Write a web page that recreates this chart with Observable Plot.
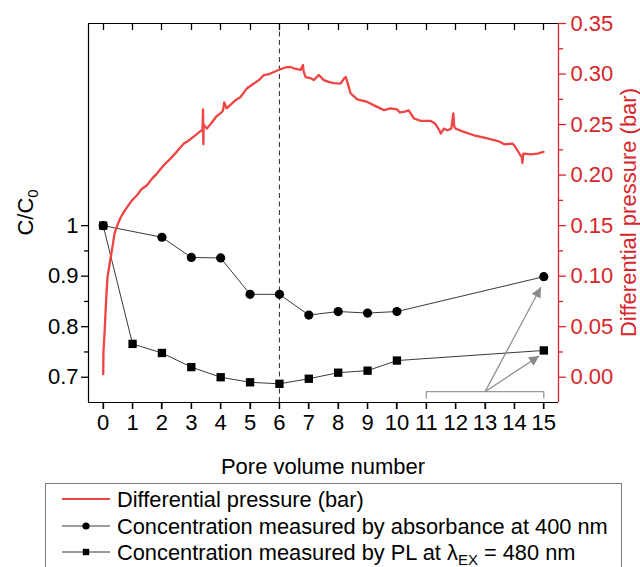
<!DOCTYPE html>
<html>
<head>
<meta charset="utf-8">
<script src="https://cdn.jsdelivr.net/npm/d3@7"></script>
<script src="https://cdn.jsdelivr.net/npm/@observablehq/plot@0.6"></script>
<style>
  html, body { margin: 0; padding: 0; background: #fff; }
  #wrap { position: relative; width: 640px; height: 567px; overflow: hidden; font-family: "Liberation Sans", Arial, sans-serif; }
  #legend { position: absolute; left: 45px; top: 483px; width: 577px; height: 120px; border: 1px solid #7c7c7c; box-sizing: border-box; background: #fff; }
</style>
</head>
<body>
<div id="wrap"><div id="chart"></div><div id="legend"></div></div>
<script>
// ---------- data ----------
const xTicks = [0, 1, 2, 3, 4, 5, 6, 7, 8, 9, 10, 11, 12, 13, 14, 15];
const leftTicks = [0.7, 0.8, 0.9, 1];
const leftMinor = [0.75, 0.85, 0.95];
const rightTicks = [0, 0.05, 0.10, 0.15, 0.20, 0.25, 0.30, 0.35];
const rightMinor = [0.025, 0.075, 0.125, 0.175, 0.225, 0.275, 0.325];

// Concentration measured by absorbance at 400 nm (circles)
const absX = [0, 2, 3, 4, 5, 6, 7, 8, 9, 10, 15];
const absY = [1.0, 0.977, 0.937, 0.936, 0.864, 0.864, 0.823, 0.830, 0.827, 0.830, 0.899];

// Concentration measured by PL (squares)
const plX = [0, 1, 2, 3, 4, 5, 6, 7, 8, 9, 10, 15];
const plY = [1.0, 0.766, 0.748, 0.720, 0.700, 0.690, 0.687, 0.697, 0.709, 0.713, 0.733, 0.753];

// Differential pressure (bar)
const dpX = [0, 0.01, 0.045, 0.10, 0.147, 0.24, 0.30, 0.386, 0.49, 0.58, 0.67, 0.81, 0.98, 1.15, 1.3, 1.49, 1.65, 1.83, 2.06, 2.28, 2.5, 2.74, 2.9, 3.08, 3.25, 3.38, 3.40, 3.41, 3.42, 3.53, 3.7, 3.85, 3.99, 4.08, 4.12, 4.2, 4.35, 4.5, 4.67, 4.9, 5.13, 5.3, 5.47, 5.65, 5.81, 6.01, 6.2, 6.38, 6.55, 6.72, 6.8, 6.82, 6.89, 7.05, 7.17, 7.34, 7.51, 7.7, 7.85, 8.08, 8.2, 8.26, 8.35, 8.42, 8.65, 8.99, 9.22, 9.4, 9.56, 9.78, 10.0, 10.1, 10.24, 10.4, 10.58, 10.81, 11.15, 11.3, 11.37, 11.45, 11.49, 11.6, 11.72, 11.85, 11.92, 11.95, 12.0, 12.28, 12.62, 12.97, 13.31, 13.5, 13.65, 13.93, 14.0, 14.1, 14.2, 14.25, 14.27, 14.3, 14.33, 14.56, 14.78, 14.99];
const dpP = [0.003, 0.026, 0.043, 0.076, 0.099, 0.116, 0.126, 0.142, 0.151, 0.157, 0.162, 0.168, 0.175, 0.180, 0.186, 0.190, 0.196, 0.2015, 0.2097, 0.216, 0.223, 0.231, 0.234, 0.238, 0.242, 0.245, 0.265, 0.2305, 0.250, 0.246, 0.252, 0.258, 0.261, 0.264, 0.272, 0.266, 0.270, 0.274, 0.277, 0.286, 0.2906, 0.294, 0.299, 0.300, 0.302, 0.3045, 0.3065, 0.307, 0.305, 0.304, 0.309, 0.303, 0.297, 0.296, 0.294, 0.299, 0.294, 0.292, 0.291, 0.2906, 0.2956, 0.297, 0.288, 0.281, 0.275, 0.2724, 0.269, 0.2665, 0.2642, 0.266, 0.265, 0.262, 0.2625, 0.264, 0.256, 0.2536, 0.2536, 0.251, 0.2477, 0.244, 0.2411, 0.246, 0.2444, 0.246, 0.261, 0.248, 0.246, 0.2427, 0.2394, 0.237, 0.2345, 0.233, 0.2305, 0.2312, 0.229, 0.2246, 0.2196, 0.218, 0.212, 0.221, 0.2213, 0.2206, 0.2213, 0.2229];

// annotation (data units): bracket 11–15 and two arrows from its middle
const bracketX = [11, 11, 15, 15];
const bracketY = [0.659, 0.6715, 0.6715, 0.659];
const arrowX1 = [13, 13];
const arrowY1 = [0.6715, 0.6715];
const arrowX2 = [14.9, 14.84];
const arrowY2 = [0.878, 0.742];
const markerLine = [6];

// axis ranges
const xDomain = [-0.5, 15.5];
const yDomain = [0.65, 1.4];         // left axis C/C0
const pDomain = [-0.025, 0.35];      // right axis (bar)

// ---------- helpers ----------
const pToY = p => yDomain[0] + (p - pDomain[0]) * (yDomain[1] - yDomain[0]) / (pDomain[1] - pDomain[0]);
const yToP = y => (y - yDomain[0]) * (pDomain[1] - pDomain[0]) / (yDomain[1] - yDomain[0]) + pDomain[0];
const RED_AXIS = "#d7262b";
const RED_LINE = "#ef4444";
const FONT = "'Liberation Sans', Arial, Helvetica, sans-serif";
const FS = 22;

const W = 640, H = 482;
const M = {top: 23, right: 82, bottom: 80, left: 88};

const absData = absX.map((x, i) => ({x, y: absY[i]}));
const plData = plX.map((x, i) => ({x, y: plY[i]}));
const dpData = dpX.map((x, i) => ({x, y: pToY(dpP[i])}));
const bracket = bracketX.map((x, i) => ({x, y: bracketY[i]}));
const arrows = arrowX1.map((x, i) => ({x1: x, y1: arrowY1[i], x2: arrowX2[i], y2: arrowY2[i]}));

const chart = Plot.plot({
  width: W, height: H,
  marginLeft: M.left, marginRight: M.right, marginTop: M.top, marginBottom: M.bottom,
  style: {fontFamily: FONT, fontSize: FS + "px", background: "white", color: "black"},
  x: {domain: xDomain},
  y: {domain: yDomain},
  marks: [
    // bottom axis
    Plot.axisX({anchor: "bottom", ticks: xTicks, tickSize: 7, tickPadding: 5, tickFormat: d => String(d), fontSize: FS, label: null, strokeWidth: 1.3}),
    // left axis
    Plot.axisY({anchor: "left", ticks: leftTicks, tickSize: 7, tickPadding: 3, tickFormat: d => (d === 1 ? "1" : d.toFixed(1)), fontSize: FS, label: null, strokeWidth: 1.3}),
    Plot.axisY({anchor: "left", ticks: leftMinor, tickSize: 4, tickFormat: () => "", label: null, strokeWidth: 1.3}),
    // right axis (pressure)
    Plot.axisY({anchor: "right", ticks: rightTicks.map(pToY), tickSize: 7, tickPadding: 5, tickFormat: d => yToP(d).toFixed(2), fontSize: FS, label: null, stroke: RED_AXIS, fill: RED_AXIS, color: RED_AXIS, strokeWidth: 1.3}),
    Plot.axisY({anchor: "right", ticks: rightMinor.map(pToY), tickSize: 4, tickFormat: () => "", label: null, stroke: RED_AXIS, strokeWidth: 1.3}),
    // frame
    Plot.ruleX([xDomain[0]], {stroke: "black", strokeWidth: 1.2}),
    Plot.ruleY([yDomain[0]], {stroke: "black", strokeWidth: 1.2}),
    Plot.ruleY([yDomain[1]], {stroke: "black", strokeWidth: 1.2}),
    Plot.ruleX([xDomain[1]], {stroke: RED_AXIS, strokeWidth: 1.3}),
    // dashed marker line at 6 PV
    Plot.ruleX(markerLine, {stroke: "#3a3a3a", strokeWidth: 1.1, strokeDasharray: "5,3.5"}),
    // concentration lines
    Plot.line(absData, {x: "x", y: "y", stroke: "#222", strokeWidth: 0.9}),
    Plot.line(plData, {x: "x", y: "y", stroke: "#222", strokeWidth: 0.9}),
    // pressure
    Plot.line(dpData, {x: "x", y: "y", stroke: RED_LINE, strokeWidth: 2.3, strokeLinejoin: "round"}),
    // markers
    Plot.dot(absData, {x: "x", y: "y", r: 4.6, fill: "black", stroke: "none", symbol: "circle"}),
    Plot.dot(plData, {x: "x", y: "y", r: 4.7, fill: "black", stroke: "none", symbol: "square"}),
    // annotation
    Plot.line(bracket, {x: "x", y: "y", stroke: "#9a9a9a", strokeWidth: 1.3}),
    Plot.link(arrows, {x1: "x1", y1: "y1", x2: "x2", y2: "y2", stroke: "#8a8a8a", strokeWidth: 1.2, className: "ann-arrow"})
  ]
});

document.getElementById("chart").appendChild(chart);

// ---------- post: arrowheads, frame ticks, axis titles ----------
const svg = d3.select(chart);
const defs = svg.append("defs");
defs.append("marker")
  .attr("id", "tri").attr("viewBox", "0 0 10 10")
  .attr("refX", 10).attr("refY", 5)
  .attr("markerWidth", 13).attr("markerHeight", 10)
  .attr("markerUnits", "userSpaceOnUse")
  .attr("orient", "auto")
  .append("path").attr("d", "M0,0L10,5L0,10Z").attr("fill", "#8a8a8a");
svg.selectAll("g.ann-arrow path").attr("marker-end", "url(#tri)");

const xs = chart.scale("x"), ys = chart.scale("y");
const plotLeft = xs.apply(xDomain[0]), plotRight = xs.apply(xDomain[1]);
const plotTop = ys.apply(yDomain[1]), plotBottom = ys.apply(yDomain[0]);
const midX = (plotLeft + plotRight) / 2, midY = (plotTop + plotBottom) / 2;

// top inward ticks and bottom outward ticks via the x scale
const tg = svg.append("g").attr("stroke", "black").attr("stroke-width", 1.3);
xTicks.forEach(t => {
  const px = Math.round(xs.apply(t)) + 0.5;
  tg.append("line").attr("x1", px).attr("x2", px).attr("y1", plotTop).attr("y2", plotTop + 7);
  tg.append("line").attr("x1", px).attr("x2", px).attr("y1", plotBottom).attr("y2", plotBottom + 7);
});

// x title
svg.append("text")
  .attr("x", midX).attr("y", 474)
  .attr("text-anchor", "middle")
  .attr("font-family", FONT).attr("font-size", FS).attr("fill", "black")
  .text("Pore volume number");

// left title C/C0
const lt = svg.append("text")
  .attr("transform", `translate(33,${midY}) rotate(-90)`)
  .attr("text-anchor", "middle")
  .attr("font-family", FONT).attr("font-size", FS).attr("fill", "black");
lt.append("tspan").text("C/C");
lt.append("tspan").attr("dy", 5).attr("font-size", 15).text("0");

// right title
svg.append("text")
  .attr("transform", `translate(636,${midY}) rotate(-90)`)
  .attr("text-anchor", "middle")
  .attr("font-family", FONT).attr("font-size", FS).attr("fill", RED_AXIS)
  .text("Differential pressure (bar)");

// ---------- legend ----------
const lg = d3.select("#legend").append("svg").attr("width", 575).attr("height", 118);
const rows = [
  {y: 15, kind: "red", label: ["Differential pressure (bar)"]},
  {y: 42, kind: "circle", label: ["Concentration measured by absorbance at 400 nm"]},
  {y: 68, kind: "square", label: ["Concentration measured by PL at λ", "EX", " = 480 nm"]}
];
rows.forEach(r => {
  if (r.kind === "red") {
    lg.append("line").attr("x1", 16).attr("x2", 64).attr("y1", r.y).attr("y2", r.y).attr("stroke", RED_LINE).attr("stroke-width", 1.8);
  } else {
    lg.append("line").attr("x1", 16).attr("x2", 64).attr("y1", r.y).attr("y2", r.y).attr("stroke", "#222").attr("stroke-width", 0.9);
    if (r.kind === "circle") lg.append("circle").attr("cx", 40).attr("cy", r.y).attr("r", 3.6).attr("fill", "black");
    else lg.append("rect").attr("x", 36.8).attr("y", r.y - 3.2).attr("width", 6.4).attr("height", 6.4).attr("fill", "black");
  }
  const t = lg.append("text").attr("x", 71).attr("y", r.y + 7.5)
    .attr("font-family", FONT).attr("font-size", 21.8).attr("fill", "black");
  t.append("tspan").text(r.label[0]);
  if (r.label.length > 1) {
    t.append("tspan").attr("dy", 5).attr("font-size", 15).text(r.label[1]);
    t.append("tspan").attr("dy", -5).text(r.label[2]);
  }
});
</script>
</body>
</html>
